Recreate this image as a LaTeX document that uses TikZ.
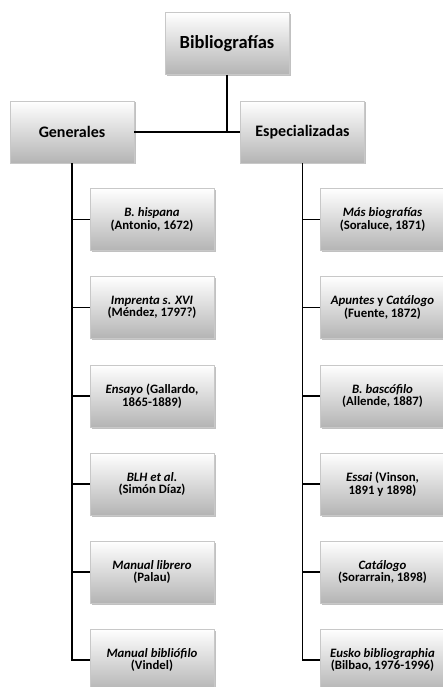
\documentclass[tikz,border=0pt]{standalone}
\usepackage{fontspec}
\setmainfont{Carlito}
\usepackage{tikz}
\usetikzlibrary{shadows,calc}
\definecolor{boxtop}{RGB}{255,255,255}
\definecolor{boxbottom}{RGB}{180,180,180}
\definecolor{boxline}{RGB}{200,200,200}

\begin{document}
\begin{tikzpicture}[x=1pt, y=-1pt,
    box/.style={rectangle, draw=boxline, line width=0.8pt, top color=boxtop, bottom color=boxbottom, minimum width=124pt, minimum height=62pt, align=center, inner sep=2pt, font=\bfseries, drop shadow={shadow xshift=1.5pt, shadow yshift=-1.5pt, fill=gray!70, opacity=0.7}},
    topbox/.style={box, font=\bfseries\fontsize{18.5}{22}\selectfont},
    midbox/.style={box, font=\bfseries\fontsize{16}{19}\selectfont},
    leafbox/.style={box, font=\bfseries\fontsize{12.8}{12.5}\selectfont},
    link/.style={line width=1.4pt, black}
]
\useasboundingbox (0,0) rectangle (443,687);

% Root and first level
\node[topbox] (root) at (227,43.5) {Bibliograf\'ias};
\node[midbox] (gen) at (72,132) {Generales};
\node[midbox] (esp) at (302.5,132) {Especializadas};

% General bibliographies
\node[leafbox] (gen1) at (152,219.5) {\textit{B. hispana}\\(Antonio, 1672)};
\node[leafbox] (gen2) at (152,307.5) {\textit{Imprenta s. XVI}\\(M\'endez, 1797?)};
\node[leafbox] (gen3) at (152,396) {\textit{Ensayo} (Gallardo,\\1865-1889)};
\node[leafbox] (gen4) at (152,484) {\textit{BLH et al.}\\(Sim\'on D\'iaz)};
\node[leafbox] (gen5) at (152,572) {\textit{Manual librero}\\(Palau)};
\node[leafbox] (gen6) at (152,660) {\textit{Manual bibli\'ofilo}\\(Vindel)};

% Specialised bibliographies
\node[leafbox] (esp1) at (382.5,219.5) {\textit{M\'as biograf\'ias}\\(Soraluce, 1871)};
\node[leafbox] (esp2) at (382.5,307.5) {\textit{Apuntes} y \textit{Cat\'alogo}\\(Fuente, 1872)};
\node[leafbox] (esp3) at (382.5,396) {\textit{B. basc\'ofilo}\\(Allende, 1887)};
\node[leafbox] (esp4) at (382.5,484) {\textit{Essai} (Vinson,\\1891 y 1898)};
\node[leafbox] (esp5) at (382.5,572) {\textit{Cat\'alogo}\\(Sorarrain, 1898)};
\node[leafbox] (esp6) at (382.5,660) {\textit{Eusko bibliographia}\\(Bilbao, 1976-1996)};

% Connectors
\draw[link] (root.south) -- (root.south |- gen.east);
\draw[link] (gen.east) -- (esp.west);
\draw[link] (gen.south) |- (gen1.west);
\draw[link] (gen.south) |- (gen2.west);
\draw[link] (gen.south) |- (gen3.west);
\draw[link] (gen.south) |- (gen4.west);
\draw[link] (gen.south) |- (gen5.west);
\draw[link] (gen.south) |- (gen6.west);
\draw[link] (esp.south) |- (esp1.west);
\draw[link] (esp.south) |- (esp2.west);
\draw[link] (esp.south) |- (esp3.west);
\draw[link] (esp.south) |- (esp4.west);
\draw[link] (esp.south) |- (esp5.west);
\draw[link] (esp.south) |- (esp6.west);

\end{tikzpicture}
\end{document}
